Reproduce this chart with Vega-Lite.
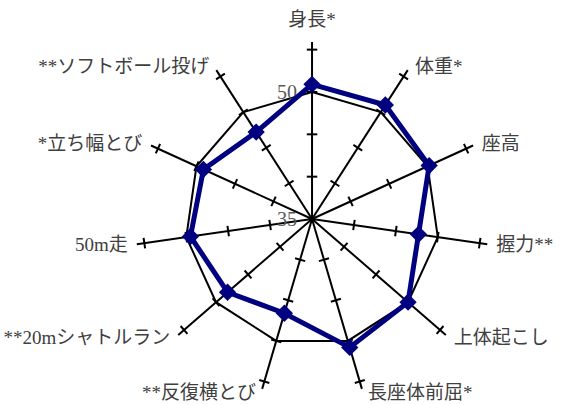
{
  "$schema": "https://vega.github.io/schema/vega-lite/v6.json",
  "width": 563,
  "height": 405,
  "autosize": {"type": "none"},
  "padding": 0,
  "background": "white",
  "config": {"view": {"stroke": null}},
  "datasets": {
    "items": [
      {"item": "身長*", "value": 50.9, "ref": 50},
      {"item": "体重*", "value": 51.0, "ref": 50},
      {"item": "座高", "value": 50.2, "ref": 50},
      {"item": "握力**", "value": 47.7, "ref": 50},
      {"item": "上体起こし", "value": 50.0, "ref": 50},
      {"item": "長座体前屈*", "value": 50.8, "ref": 50},
      {"item": "**反復横とび", "value": 46.6, "ref": 50},
      {"item": "**20mシャトルラン", "value": 48.2, "ref": 50},
      {"item": "50m走", "value": 49.5, "ref": 50},
      {"item": "*立ち幅とび", "value": 49.1, "ref": 50},
      {"item": "**ソフトボール投げ", "value": 47.2, "ref": 50}
    ],
    "axisLabels": [{"v": 35, "label": "35"}, {"v": 50, "label": "50"}]
  },
  "layer": [
    {
      "data": {"name": "items"},
      "transform": [
        {"window": [{"op": "row_number", "as": "idx"}]},
        {"calculate": "(datum.idx - 1) * 2 * PI / 11", "as": "a"},
        {"calculate": "0", "as": "zero"},
        {"calculate": "20.9 * sin(datum.a)", "as": "ex"},
        {"calculate": "20.9 * cos(datum.a)", "as": "ey"}
      ],
      "mark": {"type": "rule", "color": "black", "strokeWidth": 2},
      "encoding": {
        "x": {"field": "zero", "type": "quantitative", "scale": {"domain": [-36.84, 29.63], "nice": false, "zero": false}, "axis": null},
        "y": {"field": "zero", "type": "quantitative", "scale": {"domain": [-21.96, 25.86], "nice": false, "zero": false}, "axis": null},
        "x2": {"field": "ex"},
        "y2": {"field": "ey"}
      }
    },
    {
      "data": {"name": "items"},
      "transform": [
        {"window": [{"op": "row_number", "as": "idx"}]},
        {"calculate": "(datum.idx - 1) * 2 * PI / 11", "as": "a"},
        {"calculate": "(datum.idx - 1) * 360 / 11", "as": "deg"},
        {"calculate": "[40, 45, 50, 55]", "as": "tk"},
        {"flatten": ["tk"]},
        {"calculate": "(datum.tk - 35) * sin(datum.a)", "as": "tx"},
        {"calculate": "(datum.tk - 35) * cos(datum.a)", "as": "ty"}
      ],
      "mark": {"type": "point", "shape": "M-1,0L1,0", "filled": false, "color": "black", "strokeWidth": 2, "size": 110, "opacity": 1},
      "encoding": {
        "x": {"field": "tx", "type": "quantitative", "scale": {"domain": [-36.84, 29.63], "nice": false, "zero": false}, "axis": null},
        "y": {"field": "ty", "type": "quantitative", "scale": {"domain": [-21.96, 25.86], "nice": false, "zero": false}, "axis": null},
        "angle": {"field": "deg", "type": "quantitative", "scale": {"domain": [0, 360], "range": [0, 360]}, "legend": null}
      }
    },
    {
      "data": {"name": "items"},
      "transform": [
        {"window": [{"op": "row_number", "as": "idx"}]},
        {"calculate": "(datum.idx - 1) * 2 * PI / 11", "as": "a"},
        {"calculate": "(datum.ref - 35) * sin(datum.a)", "as": "rx"},
        {"calculate": "(datum.ref - 35) * cos(datum.a)", "as": "ry"}
      ],
      "mark": {"type": "line", "color": "black", "strokeWidth": 2, "interpolate": "linear-closed"},
      "encoding": {
        "x": {"field": "rx", "type": "quantitative", "scale": {"domain": [-36.84, 29.63], "nice": false, "zero": false}, "axis": null},
        "y": {"field": "ry", "type": "quantitative", "scale": {"domain": [-21.96, 25.86], "nice": false, "zero": false}, "axis": null},
        "order": {"field": "idx", "type": "quantitative"}
      }
    },
    {
      "data": {"name": "axisLabels"},
      "transform": [
        {"calculate": "datum.v - 35", "as": "vy"},
        {"calculate": "0", "as": "zero"}
      ],
      "mark": {"type": "text", "align": "right", "baseline": "middle", "dx": -15, "dy": 1, "fontSize": 20, "font": "Liberation Serif, DejaVu Serif", "color": "#595959"},
      "encoding": {
        "x": {"field": "zero", "type": "quantitative", "scale": {"domain": [-36.84, 29.63], "nice": false, "zero": false}, "axis": null},
        "y": {"field": "vy", "type": "quantitative", "scale": {"domain": [-21.96, 25.86], "nice": false, "zero": false}, "axis": null},
        "text": {"field": "label"}
      }
    },
    {
      "data": {"name": "items"},
      "transform": [
        {"window": [{"op": "row_number", "as": "idx"}]},
        {"calculate": "(datum.idx - 1) * 2 * PI / 11", "as": "a"},
        {"calculate": "(datum.value - 35) * sin(datum.a)", "as": "px"},
        {"calculate": "(datum.value - 35) * cos(datum.a)", "as": "py"}
      ],
      "mark": {"type": "line", "color": "#000080", "strokeWidth": 5, "interpolate": "linear-closed"},
      "encoding": {
        "x": {"field": "px", "type": "quantitative", "scale": {"domain": [-36.84, 29.63], "nice": false, "zero": false}, "axis": null},
        "y": {"field": "py", "type": "quantitative", "scale": {"domain": [-21.96, 25.86], "nice": false, "zero": false}, "axis": null},
        "order": {"field": "idx", "type": "quantitative"}
      }
    },
    {
      "data": {"name": "items"},
      "transform": [
        {"window": [{"op": "row_number", "as": "idx"}]},
        {"calculate": "(datum.idx - 1) * 2 * PI / 11", "as": "a"},
        {"calculate": "(datum.value - 35) * sin(datum.a)", "as": "px"},
        {"calculate": "(datum.value - 35) * cos(datum.a)", "as": "py"}
      ],
      "mark": {"type": "point", "shape": "diamond", "filled": true, "color": "#000080", "size": 300, "opacity": 1},
      "encoding": {
        "x": {"field": "px", "type": "quantitative", "scale": {"domain": [-36.84, 29.63], "nice": false, "zero": false}, "axis": null},
        "y": {"field": "py", "type": "quantitative", "scale": {"domain": [-21.96, 25.86], "nice": false, "zero": false}, "axis": null}
      }
    },
    {
      "data": {"name": "items"},
      "transform": [
        {"window": [{"op": "row_number", "as": "idx"}]},
        {"calculate": "(datum.idx - 1) * 2 * PI / 11", "as": "a"},
        {"calculate": "21.37 * sin(datum.a)", "as": "lx"},
        {"calculate": "21.37 * cos(datum.a)", "as": "ly"},
        {"filter": "sin(datum.a) > 0.05"}
      ],
      "mark": {"type": "text", "align": "left", "baseline": "middle", "dx": 5, "fontSize": 19, "font": "Liberation Serif, Noto Sans CJK JP", "color": "#404040"},
      "encoding": {
        "x": {"field": "lx", "type": "quantitative", "scale": {"domain": [-36.84, 29.63], "nice": false, "zero": false}, "axis": null},
        "y": {"field": "ly", "type": "quantitative", "scale": {"domain": [-21.96, 25.86], "nice": false, "zero": false}, "axis": null},
        "text": {"field": "item"}
      }
    },
    {
      "data": {"name": "items"},
      "transform": [
        {"window": [{"op": "row_number", "as": "idx"}]},
        {"calculate": "(datum.idx - 1) * 2 * PI / 11", "as": "a"},
        {"calculate": "21.37 * sin(datum.a)", "as": "lx"},
        {"calculate": "21.37 * cos(datum.a)", "as": "ly"},
        {"filter": "sin(datum.a) < -0.05"}
      ],
      "mark": {"type": "text", "align": "right", "baseline": "middle", "dx": -5, "fontSize": 19, "font": "Liberation Serif, Noto Sans CJK JP", "color": "#404040"},
      "encoding": {
        "x": {"field": "lx", "type": "quantitative", "scale": {"domain": [-36.84, 29.63], "nice": false, "zero": false}, "axis": null},
        "y": {"field": "ly", "type": "quantitative", "scale": {"domain": [-21.96, 25.86], "nice": false, "zero": false}, "axis": null},
        "text": {"field": "item"}
      }
    },
    {
      "data": {"name": "items"},
      "transform": [
        {"window": [{"op": "row_number", "as": "idx"}]},
        {"calculate": "(datum.idx - 1) * 2 * PI / 11", "as": "a"},
        {"calculate": "21.37 * sin(datum.a)", "as": "lx"},
        {"calculate": "21.37 * cos(datum.a)", "as": "ly"},
        {"filter": "abs(sin(datum.a)) <= 0.05"}
      ],
      "mark": {"type": "text", "align": "center", "baseline": "middle", "dy": -18, "fontSize": 19, "font": "Liberation Serif, Noto Sans CJK JP", "color": "#404040"},
      "encoding": {
        "x": {"field": "lx", "type": "quantitative", "scale": {"domain": [-36.84, 29.63], "nice": false, "zero": false}, "axis": null},
        "y": {"field": "ly", "type": "quantitative", "scale": {"domain": [-21.96, 25.86], "nice": false, "zero": false}, "axis": null},
        "text": {"field": "item"}
      }
    }
  ]
}
